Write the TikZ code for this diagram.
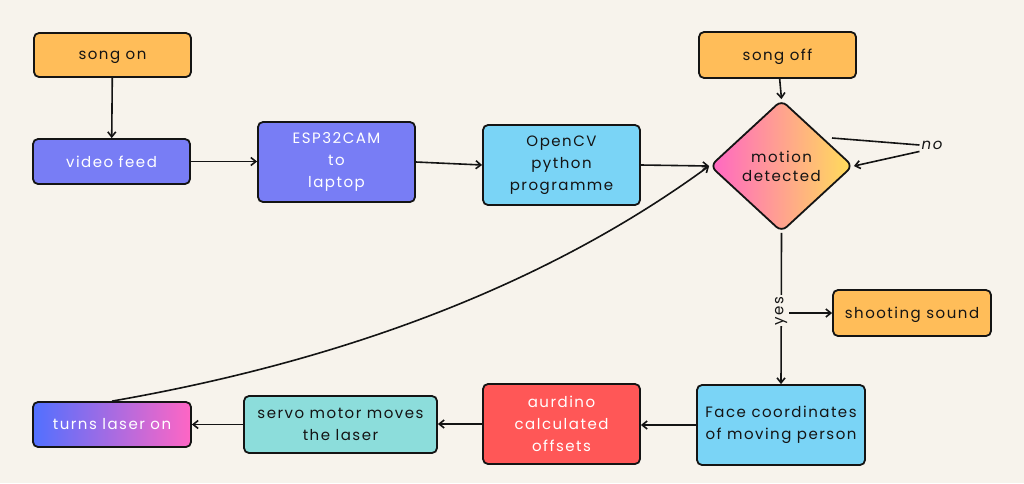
\documentclass[tikz,border=0pt]{standalone}
\usepackage{fontspec}
\setmainfont[LetterSpace=10]{Poppins}
\usetikzlibrary{arrows.meta,shapes.geometric}
\definecolor{bg}{RGB}{247,243,236}
\definecolor{orangebox}{RGB}{255,189,89}
\definecolor{violetbox}{RGB}{120,125,245}
\definecolor{skybox}{RGB}{122,212,246}
\definecolor{redbox}{RGB}{255,87,87}
\definecolor{tealbox}{RGB}{140,221,219}
\definecolor{gblue}{RGB}{81,112,255}
\definecolor{gpink}{RGB}{255,102,196}
\definecolor{gyellow}{RGB}{255,222,89}
\definecolor{ink}{RGB}{20,20,20}
\begin{document}
\begin{tikzpicture}[x=1pt,y=-1pt,
  box/.style={draw=ink, line width=1.8pt, rounded corners=5pt, align=center, inner sep=0pt,
    font=\fontsize{15}{22}\selectfont, text=ink},
  wtext/.style={text=white},
  nodepth/.style={text depth=0pt},
  arr/.style={-{Straight Barb[length=5pt,width=8pt]}, line width=1.6pt, draw=ink},
  plain/.style={line width=1.6pt, draw=ink},
  lbl/.style={font=\fontsize{15}{16}\selectfont, text=ink, inner sep=2pt}]
\fill[bg] (0,0) rectangle (1024,483);
\useasboundingbox (0,0) rectangle (1024,483);

\node[box, nodepth, fill=orangebox, minimum width=157pt, minimum height=44pt] (songon) at (112.5,55) {song on};
\node[box, fill=violetbox, wtext, minimum width=157pt, minimum height=45pt] (video) at (111.5,161.5) {video feed};
\node[box, fill=violetbox, wtext, minimum width=157pt, minimum height=80pt] (esp) at (336.5,162) {ESP32CAM\\to\\laptop};
\node[box, fill=skybox, minimum width=157pt, minimum height=80pt] (cv) at (561.5,165) {OpenCV\\python\\programme};
\node[box, nodepth, fill=orangebox, minimum width=157pt, minimum height=46pt] (songoff) at (777.5,55) {song off};
\node[box, diamond, shape aspect=1.083, minimum width=143pt, minimum height=132pt,
  rounded corners=7pt, left color=gpink, right color=gyellow,
  font=\fontsize{15}{19}\selectfont] (d) at (781.5,166) {motion\\detected};
\node[box, nodepth, fill=orangebox, minimum width=158pt, minimum height=46pt] (shoot) at (912,313) {shooting sound};
\node[box, fill=skybox, minimum width=168pt, minimum height=80pt] (face) at (781,425) {Face coordinates\\of moving person};
\node[box, fill=redbox, wtext, minimum width=157pt, minimum height=80pt] (ard) at (561.5,424) {aurdino\\calculated\\offsets};
\node[box, fill=tealbox, minimum width=193pt, minimum height=57pt] (servo) at (340.5,424.5) {servo motor moves\\the laser};
\node[box, left color=gblue, right color=gpink, wtext, minimum width=158pt, minimum height=45pt] (laser) at (112,424.5) {turns laser on};

\draw[arr] (songon) -- (video);
\draw[arr] (video) -- (esp.west |- video);
\draw[arr] (esp.east) -- (cv.west);
\draw[arr] (cv.east) -- (d.west);
\draw[arr] (songoff) -- (d.north);

\coordinate (nostart) at (832,138);
\node[lbl, font=\fontsize{15}{16}\selectfont\itshape] (no) at (932,145) {no};
\draw[plain] (nostart) -- (no.west);
\draw[arr] (no.south west) -- (d.east);

\draw[arr] (d.south) -- node[pos=0.515, rotate=90, fill=bg, lbl, inner sep=1pt] (yes) {yes} (face.north);
\draw[arr] (yes.south |- shoot.west) -- (shoot.west);

\draw[arr] (face.west) -- (ard.east |- face.west);
\draw[arr] (ard.west) -- (servo.east |- ard.west);
\draw[arr] (servo.west) -- (laser.east |- servo.west);
\draw[arr] (laser.north) .. controls (365,357) and (560,275) .. (d.west);
\end{tikzpicture}
\end{document}
